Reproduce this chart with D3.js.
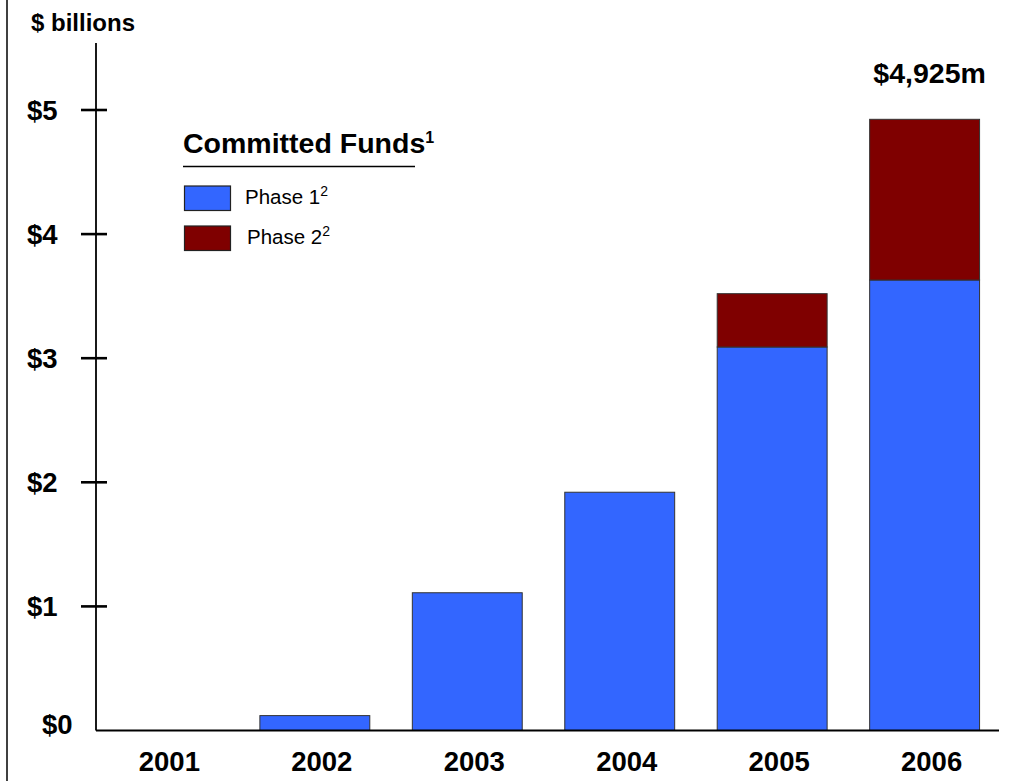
<!DOCTYPE html>
<html>
<head>
<meta charset="utf-8">
<script src="https://cdn.jsdelivr.net/npm/d3@7"></script>
<style>
  html, body { margin: 0; padding: 0; background: #fff; }
  svg { display: block; font-family: "Liberation Sans", Arial, Helvetica, sans-serif; }
</style>
</head>
<body>
<svg id="chart" width="1034" height="781"></svg>
<script>
// Committed funds by year, $ billions
const years = ["2001", "2002", "2003", "2004", "2005", "2006"];
const phase1 = [0, 0.12, 1.11, 1.92, 3.09, 3.63];
const phase2 = [0, 0, 0, 0, 0.43, 1.295];
const yTicks = [0, 1, 2, 3, 4, 5];
const totalLabel = "$4,925m";

const colors = { phase1: "#3366FF", phase2: "#7F0000" };

const svg = d3.select("#chart");

const x = d3.scaleBand()
  .domain(years)
  .range([96, 991])
  .paddingInner(0.279)
  .paddingOuter(0.075);

const y = d3.scaleLinear().domain([0, 5]).range([730.5, 110]);

// frame line on the left edge
svg.append("line")
  .attr("x1", 7).attr("x2", 7).attr("y1", 0).attr("y2", 781)
  .attr("stroke", "#000").attr("stroke-width", 1.5);

// unit label
svg.append("text")
  .attr("x", 31).attr("y", 30.5)
  .attr("font-size", 24).attr("font-weight", "bold")
  .text("$ billions");

// stacked bars
const rows = years.map((yr, i) => ({ year: yr, p1: phase1[i], p2: phase2[i] }));

const g = svg.append("g");
g.selectAll("rect.p1")
  .data(rows.filter(d => d.p1 > 0))
  .join("rect")
  .attr("class", "p1")
  .attr("x", d => x(d.year))
  .attr("width", x.bandwidth())
  .attr("y", d => y(d.p1))
  .attr("height", d => y(0) - y(d.p1))
  .attr("fill", colors.phase1)
  .attr("stroke", "#333")
  .attr("stroke-width", 1);

g.selectAll("rect.p2")
  .data(rows.filter(d => d.p2 > 0))
  .join("rect")
  .attr("class", "p2")
  .attr("x", d => x(d.year))
  .attr("width", x.bandwidth())
  .attr("y", d => y(d.p1 + d.p2))
  .attr("height", d => y(d.p1) - y(d.p1 + d.p2))
  .attr("fill", colors.phase2)
  .attr("stroke", "#333")
  .attr("stroke-width", 1);

// total label above the last bar
const last = rows[rows.length - 1];
svg.append("text")
  .attr("x", x(last.year) + x.bandwidth() / 2 + 5)
  .attr("y", 83)
  .attr("text-anchor", "middle")
  .attr("font-size", 28.5).attr("font-weight", "bold")
  .text(totalLabel);

// y axis line and ticks
svg.append("line")
  .attr("x1", 96).attr("x2", 96).attr("y1", 43).attr("y2", y(0))
  .attr("stroke", "#000").attr("stroke-width", 1.8);

svg.selectAll("line.ytick")
  .data(yTicks.filter(t => t > 0))
  .join("line")
  .attr("class", "ytick")
  .attr("x1", 81).attr("x2", 107)
  .attr("y1", d => y(d)).attr("y2", d => y(d))
  .attr("stroke", "#000").attr("stroke-width", 2.6);

svg.selectAll("text.ylab")
  .data(yTicks)
  .join("text")
  .attr("class", "ylab")
  .attr("x", d => d === 0 ? 72.5 : 57.5)
  .attr("y", d => d === 0 ? y(d) - 6 : y(d))
  .attr("dy", "0.35em")
  .attr("text-anchor", "end")
  .attr("font-size", 27.5).attr("font-weight", "bold")
  .text(d => "$" + d);

// x axis line and year labels
svg.append("line")
  .attr("x1", 96).attr("x2", 999).attr("y1", y(0)).attr("y2", y(0))
  .attr("stroke", "#000").attr("stroke-width", 1.8);

svg.selectAll("text.xlab")
  .data(years)
  .join("text")
  .attr("class", "xlab")
  .attr("x", d => x(d) + x.bandwidth() / 2 + 7)
  .attr("y", 771)
  .attr("text-anchor", "middle")
  .attr("font-size", 27.5).attr("font-weight", "bold")
  .text(d => d);

// legend
const legend = svg.append("g");
const title = legend.append("text")
  .attr("x", 183).attr("y", 152.5)
  .attr("font-size", 28.5).attr("font-weight", "bold");
title.append("tspan").text("Committed Funds");
title.append("tspan").attr("font-size", 16).attr("dy", -10).text("1");

legend.append("line")
  .attr("x1", 183).attr("x2", 415).attr("y1", 166.5).attr("y2", 166.5)
  .attr("stroke", "#000").attr("stroke-width", 1.5);

const legendItems = [
  { label: "Phase 1", sup: "2", color: colors.phase1, top: 186, tx: 245 },
  { label: "Phase 2", sup: "2", color: colors.phase2, top: 226, tx: 247 }
];

legendItems.forEach(item => {
  legend.append("rect")
    .attr("x", 184.5).attr("y", item.top)
    .attr("width", 46).attr("height", 24.5)
    .attr("fill", item.color)
    .attr("stroke", "#222").attr("stroke-width", 1.2);
  const t = legend.append("text")
    .attr("x", item.tx).attr("y", item.top + 17.5)
    .attr("font-size", 20.5);
  t.append("tspan").text(item.label);
  t.append("tspan").attr("font-size", 14).attr("dy", -8).text(item.sup);
});
</script>
</body>
</html>
